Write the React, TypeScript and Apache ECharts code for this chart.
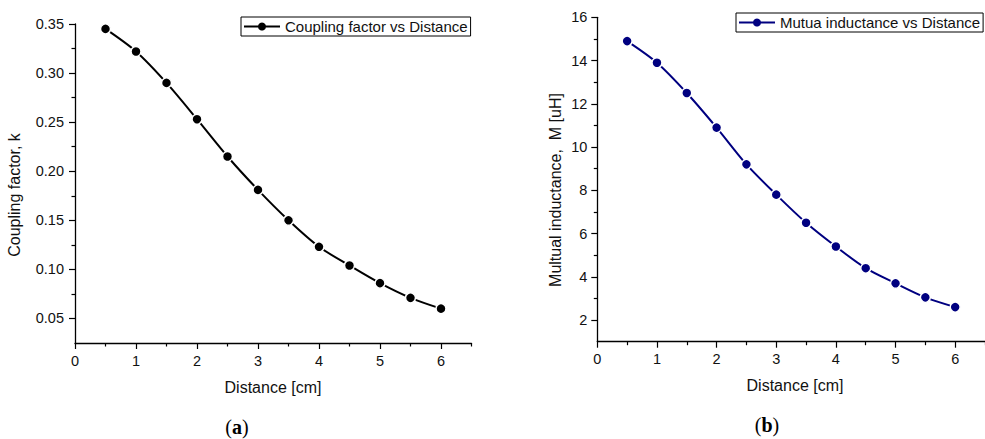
import React, { useEffect, useRef } from "react";
import * as echarts from "echarts";

const distances = [0.5, 1, 1.5, 2, 2.5, 3, 3.5, 4, 4.5, 5, 5.5, 6];
const couplingK = [0.345, 0.322, 0.29, 0.253, 0.215, 0.181, 0.15, 0.123, 0.104, 0.086, 0.071, 0.06];
const mutualM = [14.9, 13.9, 12.5, 10.9, 9.2, 7.8, 6.5, 5.4, 4.4, 3.7, 3.05, 2.6];

const xTickValues = [0, 1, 2, 3, 4, 5, 6];
const xMinorValues = [0.5, 1.5, 2.5, 3.5, 4.5, 5.5, 6.5];
const kTickValues = [0.05, 0.1, 0.15, 0.2, 0.25, 0.3, 0.35];
const kMinorValues = [0.075, 0.125, 0.175, 0.225, 0.275, 0.325];
const mTickValues = [2, 4, 6, 8, 10, 12, 14, 16];
const mMinorValues = [3, 5, 7, 9, 11, 13, 15];

const seriesNameA = "Coupling factor vs Distance";
const seriesNameB = "Mutua inductance vs Distance";

const FONT = "'Liberation Sans', Arial, sans-serif";
const SERIF = "'Liberation Serif', 'DejaVu Serif', serif";
const TEXT = "#111";
const NAVY = "#000080";

function mainAxis(gridIndex: number, min: number, max: number, ticks: number[], fmt: (v: number) => string, margin: number) {
  return {
    type: "value",
    gridIndex,
    min,
    max,
    axisLine: { show: true, onZero: false, lineStyle: { color: "#000", width: 1.3 } },
    axisTick: { show: true, length: 6, customValues: ticks, lineStyle: { color: "#000", width: 1.2 } },
    axisLabel: { show: true, customValues: ticks, formatter: fmt, fontSize: 14.5, fontFamily: FONT, color: TEXT, margin },
    splitLine: { show: false },
  };
}

function minorAxis(gridIndex: number, min: number, max: number, ticks: number[], position: string) {
  return {
    type: "value",
    gridIndex,
    min,
    max,
    position,
    offset: 0,
    axisLine: { show: false },
    axisTick: { show: true, length: 3.5, customValues: ticks, lineStyle: { color: "#000", width: 1.2 } },
    axisLabel: { show: false },
    splitLine: { show: false },
  };
}

function caption(letter: string, x: number, y: number) {
  return {
    type: "text",
    x,
    y,
    style: {
      text: "{n|(}{b|" + letter + "}{n|)}",
      align: "center",
      verticalAlign: "middle",
      rich: {
        n: { fontSize: 20, fontFamily: SERIF, fill: "#000" },
        b: { fontSize: 20, fontWeight: "bold", fontFamily: SERIF, fill: "#000" },
      },
    },
  };
}

export default function App() {
  const ref = useRef<HTMLDivElement>(null);
  useEffect(() => {
    if (!ref.current) return;
    const chart = echarts.init(ref.current, null, { renderer: "svg" });
    const fmtInt = (v: number) => String(Math.round(v));
    const fmt2 = (v: number) => v.toFixed(2);
    const legendBase = {
      orient: "horizontal",
      borderColor: "#000",
      borderWidth: 1,
      padding: [2, 3, 2, 2],
      itemWidth: 36,
      itemHeight: 10,
      itemGap: 0,
      textStyle: { fontSize: 15, fontFamily: FONT, color: TEXT },
      itemStyle: { borderWidth: 0 },
    };
    chart.setOption({
      animation: false,
      backgroundColor: "#fff",
      grid: [
        { left: 75, top: 24, width: 396.5, height: 319, containLabel: false },
        { left: 597.3, top: 17.3, width: 396.5, height: 324.4, containLabel: false },
      ],
      xAxis: [
        mainAxis(0, 0, 6.5, xTickValues, fmtInt, 10),
        minorAxis(0, 0, 6.5, xMinorValues, "bottom"),
        mainAxis(1, 0, 6.5, xTickValues, fmtInt, 10),
        minorAxis(1, 0, 6.5, xMinorValues, "bottom"),
      ],
      yAxis: [
        mainAxis(0, 0.025, 0.35, kTickValues, fmt2, 11),
        minorAxis(0, 0.025, 0.35, kMinorValues, "left"),
        mainAxis(1, 1, 16, mTickValues, fmtInt, 10),
        minorAxis(1, 1, 16, mMinorValues, "left"),
      ],
      legend: [
        { ...legendBase, data: [seriesNameA], left: 241, top: 17 },
        { ...legendBase, data: [seriesNameB], left: 736, top: 13 },
      ],
      series: [
        {
          name: seriesNameA,
          type: "line",
          xAxisIndex: 0,
          yAxisIndex: 0,
          data: distances.map((x, i) => [x, couplingK[i]]),
          smooth: 0.3,
          symbol: "circle",
          symbolSize: 10,
          lineStyle: { color: "#000", width: 2 },
          itemStyle: { color: "#000", borderColor: "#fff", borderWidth: 1.5 },
        },
        {
          name: seriesNameB,
          type: "line",
          xAxisIndex: 2,
          yAxisIndex: 2,
          data: distances.map((x, i) => [x, mutualM[i]]),
          smooth: 0.3,
          symbol: "circle",
          symbolSize: 10,
          lineStyle: { color: NAVY, width: 2 },
          itemStyle: { color: NAVY, borderColor: "#fff", borderWidth: 1.5 },
        },
      ],
      graphic: [
        {
          type: "text",
          x: 14,
          y: 195,
          rotation: Math.PI / 2,
          style: { text: "Coupling factor, k", fontSize: 16, fontFamily: FONT, fill: TEXT, align: "center", verticalAlign: "middle" },
        },
        {
          type: "text",
          x: 273,
          y: 387.5,
          style: { text: "Distance [cm]", fontSize: 16, fontFamily: FONT, fill: TEXT, align: "center", verticalAlign: "middle" },
        },
        {
          type: "text",
          x: 555,
          y: 190,
          rotation: Math.PI / 2,
          style: { text: "Multual inductance,  M [uH]", fontSize: 16, fontFamily: FONT, fill: TEXT, align: "center", verticalAlign: "middle" },
        },
        {
          type: "text",
          x: 795,
          y: 385,
          style: { text: "Distance [cm]", fontSize: 16, fontFamily: FONT, fill: TEXT, align: "center", verticalAlign: "middle" },
        },
        caption("a", 237, 426.5),
        caption("b", 767, 425),
      ],
    });
    return () => chart.dispose();
  }, []);
  return (
    <div
      ref={ref}
      style={{ position: "fixed", left: 0, top: 0, width: 985, height: 439, background: "#fff" }}
    />
  );
}
